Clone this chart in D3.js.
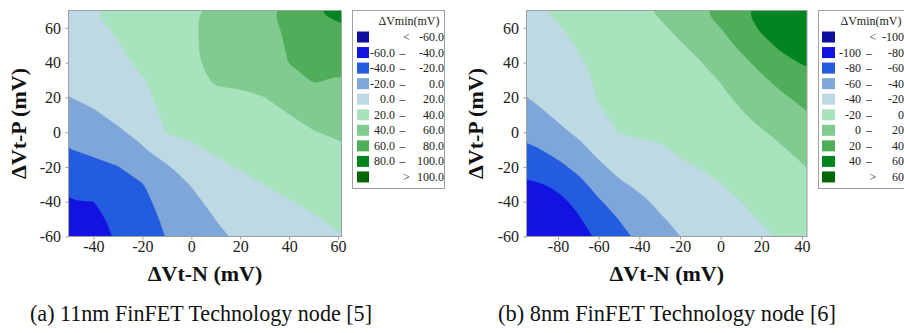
<!DOCTYPE html>
<html>
<head>
<meta charset="utf-8">
<script src="https://cdn.jsdelivr.net/npm/d3@7"></script>
<style>
    body { margin: 0; background: #fff; }
    svg { display: block; font-family: "Liberation Serif", "Times New Roman", serif; }
</style>
</head>
<body>
<svg id="chart" width="904" height="333"></svg>
<script>
/* (a) 11nm node: dVmin, rows go from dVt-P = -60 up to 70 */
var leftX = [-50, -40, -30, -20, -10, 0, 10, 20, 30, 40, 50, 60, 70];
var leftY = [-60, -50, -40, -30, -20, -10, 0, 10, 20, 30, 40, 50, 60, 70];
var leftGrid = [
    [-52, -48, -37.3, -28.2, -19.5, -11, -2.8, 2.6, 6.5, 10.4, 14.4, 18.9, 22],
    [-48, -45, -35.5, -26.6, -17, -8.6, 0.1, 4.7, 9.3, 14, 18.6, 22.6, 26],
    [-40.5, -40.2, -31, -24.2, -14, -5.1, 5.8, 8.2, 13.7, 19.2, 23, 26.4, 30],
    [-33.4, -32.2, -25.5, -20.8, -9, 0.8, 11.3, 14, 20.4, 23.6, 27.1, 30.1, 33.5],
    [-26.9, -24.4, -20.6, -12.1, -2, 8.9, 16.8, 21.1, 24.3, 27.6, 31.2, 33.9, 37],
    [-20.5, -16.8, -11.7, -1.7, 9.3, 16.9, 22.1, 25.4, 28.2, 31.7, 35.2, 37.6, 40.5],
    [-13.7, -9.3, -2, 4.1, 20.6, 23, 27.2, 29.7, 32.1, 35.7, 39.3, 42, 45],
    [-7, -1.8, 3.1, 10.5, 24.5, 27, 32.3, 34, 36, 39.7, 46.5, 47.5, 50],
    [-0.2, 2.6, 7, 15.5, 25.5, 31, 37.4, 38.4, 39.9, 46.5, 54.3, 53, 55],
    [2.9, 6, 10.9, 19, 26.5, 34.5, 41.7, 41.4, 43.4, 53.4, 61.3, 58.5, 60],
    [5.9, 9.4, 17, 22.5, 27.8, 37.5, 44, 43.7, 46.8, 60.3, 65.9, 64, 66],
    [9, 12.8, 19.3, 24.2, 29.7, 37.5, 45.5, 46, 50.3, 62.6, 70.6, 70.7, 73],
    [12, 16.2, 22, 26.6, 31.6, 37.5, 46, 48.3, 52.5, 64, 75.3, 78, 81],
    [15, 19.7, 25, 29, 33.5, 37, 46, 50.6, 56, 67.3, 79.5, 84, 87]
];
var leftThresholds = [-60, -40, -20, 0, 20, 40, 60, 80, 100];
var leftXTicks = [-40, -20, 0, 20, 40, 60];

/* (b) 8nm node */
var rightX = [-100, -90, -80, -70, -60, -50, -40, -30, -20, -10, 0, 10, 20, 30, 40, 50];
var rightY = [-60, -50, -40, -30, -20, -10, 0, 10, 20, 30, 40, 50, 60, 70];
var rightGrid = [
    [-97, -94, -90, -86, -77.5, -65.9, -56, -47.6, -40.2, -34.8, -30.1, -27.5, -23, -18.2, -14.6, -10],
    [-94, -91, -87.5, -81.8, -71.1, -59.7, -50.6, -41.7, -36.4, -32.2, -27.8, -24.3, -19.1, -15.1, -11.1, -6.5],
    [-90, -87, -84.5, -75.9, -62.1, -52.3, -43.6, -36.9, -32.6, -28.4, -24.3, -20.1, -16.1, -12, -7.7, -3],
    [-83.5, -81.5, -76.8, -65.9, -52.8, -42.6, -36.9, -32.1, -27.9, -24.1, -20.4, -16.6, -12.6, -8.8, -4.5, 0.5],
    [-74.5, -72, -64.6, -55.2, -43.6, -34.9, -30.6, -27, -22.2, -19.6, -16.3, -12.9, -9.1, -5.3, -1.2, 4.5],
    [-65.1, -61.2, -54, -45.7, -35, -27.3, -23.5, -22.3, -18, -15.2, -12.2, -9.2, -5.4, -1.5, 3.9, 9],
    [-56.7, -52.4, -44.2, -36.9, -27.5, -19.5, -18, -17.3, -15.6, -11.5, -8.8, -5, -1.4, 3.8, 10.3, 16],
    [-49.4, -43.7, -37.1, -30, -21.7, -17.5, -14.8, -13.7, -12, -8.4, -5.1, -1.5, 4.4, 10.8, 17, 23],
    [-42.2, -37.5, -32.1, -26.1, -19.1, -15.9, -13.2, -10.7, -8.8, -5.7, -2.5, 2.5, 10.3, 17.3, 23.9, 29.5],
    [-37.9, -34.3, -28.8, -23.3, -18.5, -14.7, -11.4, -8.3, -5.9, -3.2, 0.5, 8.7, 16.8, 25.4, 31.8, 37],
    [-35, -31.2, -26.2, -21.2, -17.7, -13.4, -9.9, -6.6, -3.6, -0.7, 7, 15.2, 25, 35.8, 40.7, 45],
    [-32, -27.5, -23.6, -19.3, -15.4, -11.3, -7.8, -4.5, -1.4, 4.6, 13.6, 23.2, 35.5, 42.8, 46.3, 50],
    [-29, -24.6, -20.9, -16.8, -12.8, -9.2, -5.6, -2.1, 3.3, 11.4, 19.8, 31.7, 42, 46.8, 51, 54],
    [-26, -21.7, -17.5, -14.3, -10.1, -6.3, -2.7, 1.8, 10, 18.2, 27.1, 38, 44.4, 50, 55, 57]
];
var rightThresholds = [-100, -80, -60, -40, -20, 0, 20, 40, 60];
var rightXTicks = [-80, -60, -40, -20, 0, 20, 40];

var yTicks = [-60, -40, -20, 0, 20, 40, 60];
var captions = ["(a) 11nm FinFET Technology node [5]", "(b) 8nm FinFET Technology node [6]"];

/* band colours, lowest band first */
var bandColors = ["#0f0fa0", "#1212e1", "#245ce0", "#7ea6d8", "#bddae4",
                  "#a7e4bd", "#80cc90", "#50ae5a", "#008420", "#006600"];

var svg = d3.select("#chart");
/* round off the marching-squares corners a little */
var smoothLine = d3.line().curve(d3.curveBasisClosed);

function DrawPanel(p) {
    var xScale = d3.scaleLinear().domain(p.xDomain).range([p.left, p.right]);
    var yScale = d3.scaleLinear().domain([-60, 70]).range([p.bottom, p.top]);

    var n = p.xs.length, m = p.ys.length;
    var values = [];
    for (var j = 0; j < m; j++)
        for (var i = 0; i < n; i++)
            values.push(p.grid[j][i]);

    var contours = d3.contours().size([n, m]).thresholds(p.thresholds)(values);

    /* grid cell centres sit at index + 0.5 */
    var step = p.xs[1] - p.xs[0];
    function ToPixel(pt) {
        return [xScale(p.xs[0] + (pt[0] - 0.5) * step),
                yScale(p.ys[0] + (pt[1] - 0.5) * step)];
    }
    function ContourPath(mp) {
        var s = "";
        mp.coordinates.forEach(function(poly) {
            poly.forEach(function(ring) {
                s += smoothLine(ring.slice(0, -1).map(ToPixel));
            });
        });
        return s;
    }

    svg.append("clipPath").attr("id", p.id + "-clip")
       .append("rect")
       .attr("x", p.left).attr("y", p.top)
       .attr("width", p.right - p.left).attr("height", p.bottom - p.top);

    var g = svg.append("g").attr("clip-path", "url(#" + p.id + "-clip)");
    g.append("rect")
     .attr("x", p.left).attr("y", p.top)
     .attr("width", p.right - p.left).attr("height", p.bottom - p.top)
     .attr("fill", bandColors[0]);
    g.selectAll("path").data(contours).enter()
     .append("path")
     .attr("d", ContourPath)
     .attr("fill", function(d, i) { return bandColors[i + 1]; })
     .attr("stroke", function(d, i) { return bandColors[i + 1]; })
     .attr("stroke-width", 0.5);

    // Axes
    var ay = svg.append("g")
       .attr("transform", "translate(" + p.left + ",0)")
       .call(d3.axisLeft(yScale).tickValues(yTicks).tickSize(3).tickPadding(4.5)
             .tickFormat(function(d) { return String(d); }));
    var ax = svg.append("g")
       .attr("transform", "translate(0," + p.bottom + ")")
       .call(d3.axisBottom(xScale).tickValues(p.xTicks).tickSize(3).tickPadding(1.5)
             .tickFormat(function(d) { return String(d); }));
    [ay, ax].forEach(function(a) {
        a.attr("font-family", null).attr("font-size", 16);
        a.select(".domain").remove();
        a.selectAll("line").attr("stroke", "#9a9a9a");
        a.selectAll("text").attr("fill", "#222");
    });

    svg.append("rect")
       .attr("x", p.left).attr("y", p.top)
       .attr("width", p.right - p.left).attr("height", p.bottom - p.top)
       .attr("fill", "none").attr("stroke", "#a0a0a0").attr("stroke-width", 1);

    // Axis Labels
    svg.append("text")
       .attr("text-anchor", "middle")
       .attr("x", (p.left + p.right) / 2)
       .attr("y", 280.5)
       .attr("font-size", 22).attr("font-weight", "bold").attr("fill", "#111")
       .text("\u0394Vt-N (mV)");
    svg.append("text")
       .attr("text-anchor", "middle")
       .attr("transform", "translate(" + p.yTitleX + "," + ((p.top + p.bottom) / 2) + ") rotate(-90)")
       .attr("font-size", 22).attr("font-weight", "bold").attr("fill", "#111")
       .text("\u0394Vt-P (mV)");

    DrawLegend(p);

    svg.append("text")
       .attr("text-anchor", "middle")
       .attr("x", p.captionX).attr("y", 321)
       .attr("font-size", 24).attr("fill", "#111")
       .attr("textLength", p.captionW).attr("lengthAdjust", "spacingAndGlyphs")
       .text(p.caption);
}

function DrawLegend(p) {
    var L = p.legend;
    var g = svg.append("g");
    g.append("rect")
     .attr("x", L.x).attr("y", 10.5).attr("width", L.w).attr("height", 178)
     .attr("fill", "#fff").attr("stroke", "#a0a0a0");
    g.append("text")
     .attr("text-anchor", "middle").attr("x", L.titleX).attr("y", 25)
     .attr("font-size", 12).attr("fill", "#222")
     .text("\u0394Vmin(mV)");

    var t = p.thresholds;
    var rows = [];
    rows.push({sym: "<", lo: "", hi: p.fmt(t[0])});
    for (var k = 1; k < t.length; k++)
        rows.push({sym: "", lo: p.fmt(t[k - 1]), hi: p.fmt(t[k])});
    rows.push({sym: ">", lo: "", hi: p.fmt(t[t.length - 1])});

    var row = g.selectAll("g.row").data(rows).enter().append("g")
       .attr("class", "row")
       .attr("transform", function(d, i) { return "translate(0," + (31.5 + i * 15.55) + ")"; });
    row.append("rect")
       .attr("x", L.swatchX).attr("width", L.swatchW).attr("height", 11)
       .attr("fill", function(d, i) { return bandColors[i]; });
    row.append("text").attr("text-anchor", "end").attr("x", L.loX).attr("y", 9.5)
       .attr("font-size", 12).attr("fill", "#222")
       .text(function(d) { return d.lo; });
    row.append("text").attr("text-anchor", "middle").attr("y", 9.5)
       .attr("x", function(d) { return d.sym ? L.dashX + 4 : L.dashX; })
       .attr("font-size", 12).attr("fill", "#222")
       .text(function(d) { return d.sym ? d.sym : "\u2013"; });
    row.append("text").attr("text-anchor", "end").attr("x", L.hiX).attr("y", 9.5)
       .attr("font-size", 12).attr("fill", "#222")
       .text(function(d) { return d.hi; });
}

DrawPanel({
    id: "a", xs: leftX, ys: leftY, grid: leftGrid, thresholds: leftThresholds,
    xDomain: [-50.2, 61.4], xTicks: leftXTicks,
    left: 68.5, right: 341.5, top: 10.5, bottom: 236.5,
    yTitleX: 26, captionX: 201, captionW: 342, caption: captions[0],
    fmt: function(v) { return v.toFixed(1); },
    legend: {x: 352.5, w: 92, titleX: 409, swatchX: 357, swatchW: 12, loX: 395, dashX: 402.5, hiX: 444}
});
DrawPanel({
    id: "b", xs: rightX, ys: rightY, grid: rightGrid, thresholds: rightThresholds,
    xDomain: [-95.5, 42.5], xTicks: rightXTicks,
    left: 526.5, right: 807, top: 10.5, bottom: 236.5,
    yTitleX: 483, captionX: 667, captionW: 338, caption: captions[1],
    fmt: function(v) { return String(v); },
    legend: {x: 818.5, w: 92, titleX: 871, swatchX: 822, swatchW: 13, loX: 861, dashX: 869, hiX: 904}
});
</script>
</body>
</html>
